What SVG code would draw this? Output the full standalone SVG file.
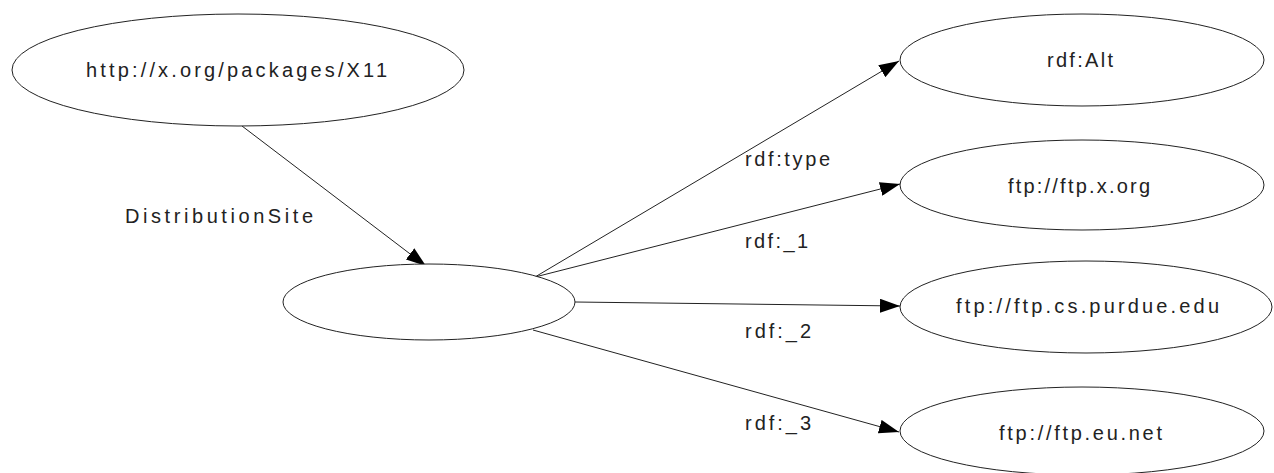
<svg xmlns="http://www.w3.org/2000/svg" width="1274" height="473" viewBox="0 0 1274 473">
<style>
.node ellipse{fill:#fff;stroke:#222;stroke-width:1}
text{font-family:"Liberation Sans",Arial,sans-serif;font-size:20px;fill:#222}
.lbl{text-anchor:middle}
.edge line{stroke:#222;stroke-width:1}
</style>
<defs>
<marker id="arr" markerUnits="userSpaceOnUse" markerWidth="20" markerHeight="14" refX="20" refY="7" orient="auto">
<path d="M0,0 L20,7 L0,14 Z" fill="#000"/>
</marker>
</defs>
<rect width="1274" height="473" fill="#fff"/>
<g id="edges" class="edge">
<line x1="242" y1="126" x2="426" y2="266" marker-end="url(#arr)"/>
<line x1="535" y1="277" x2="899" y2="61" marker-end="url(#arr)"/>
<line x1="535" y1="277" x2="900" y2="184" marker-end="url(#arr)"/>
<line x1="575" y1="302" x2="900" y2="306" marker-end="url(#arr)"/>
<line x1="533" y1="330" x2="899" y2="432" marker-end="url(#arr)"/>
<text x="125" y="223" textLength="188" lengthAdjust="spacing">DistributionSite</text>
<text x="745" y="166" textLength="85" lengthAdjust="spacing">rdf:type</text>
<text x="745" y="248" textLength="63" lengthAdjust="spacing">rdf:_1</text>
<text x="745" y="338" textLength="66" lengthAdjust="spacing">rdf:_2</text>
<text x="745" y="430" textLength="66" lengthAdjust="spacing">rdf:_3</text>
</g>
<g id="n_x11" class="node">
<ellipse cx="238" cy="70" rx="226" ry="56"/>
<text x="236.5" y="77" class="lbl" textLength="301" lengthAdjust="spacing">http://x.org/packages/X11</text>
</g>
<g id="n_blank" class="node">
<ellipse cx="429" cy="302" rx="146" ry="38"/>
</g>
<g id="n_alt" class="node">
<ellipse cx="1082" cy="60" rx="182" ry="46"/>
<text x="1080" y="67" class="lbl" textLength="66" lengthAdjust="spacing">rdf:Alt</text>
</g>
<g id="n_xorg" class="node">
<ellipse cx="1082" cy="185" rx="182" ry="45"/>
<text x="1079" y="193" class="lbl" textLength="142" lengthAdjust="spacing">ftp://ftp.x.org</text>
</g>
<g id="n_purdue" class="node">
<ellipse cx="1086" cy="307" rx="186" ry="46"/>
<text x="1087.5" y="313" class="lbl" textLength="263" lengthAdjust="spacing">ftp://ftp.cs.purdue.edu</text>
</g>
<g id="n_eunet" class="node">
<ellipse cx="1082" cy="431" rx="182" ry="44"/>
<text x="1080.5" y="440" class="lbl" textLength="163" lengthAdjust="spacing">ftp://ftp.eu.net</text>
</g>
</svg>
